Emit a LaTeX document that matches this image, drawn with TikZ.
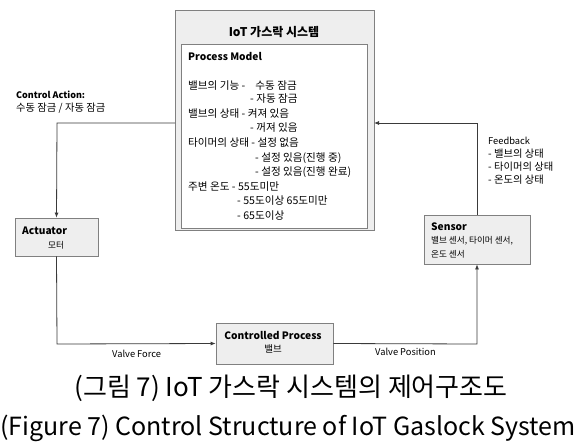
\documentclass[tikz,border=0pt]{standalone}
\usepackage{fontspec}
\setmainfont{Noto Sans CJK KR}
\usetikzlibrary{arrows.meta}
\definecolor{boxgray}{HTML}{EEEEEE}
\definecolor{edgegray}{HTML}{808080}
\definecolor{linegray}{HTML}{3A3A3A}
\tikzset{
  blk/.style={draw=edgegray, line width=0.8pt, fill=boxgray, inner sep=0pt},
  wht/.style={draw=edgegray, line width=0.8pt, fill=white, inner sep=0pt},
  txt/.style={anchor=west, inner sep=0pt, font=\fontsize{10.6}{12}\selectfont, text=black},
  btxt/.style={anchor=west, inner sep=0pt, font=\fontsize{10.2}{12}\selectfont\bfseries, text=black},
  stxt/.style={anchor=west, inner sep=0pt, font=\fontsize{8.6}{10}\selectfont, text=black},
  ltxt/.style={anchor=west, inner sep=0pt, font=\fontsize{10.3}{12}\selectfont, text=black},
  etxt/.style={anchor=west, inner sep=0pt, font=\fontsize{9.3}{11}\selectfont, text=black},
  conn/.style={draw=linegray, line width=0.8pt},
  arr/.style={conn, -{Latex[length=5pt,width=4pt]}},
  captxt/.style={inner sep=0pt, font=\fontsize{25}{28}\selectfont, text=black}
}
\begin{document}
\begin{tikzpicture}[x=1pt,y=-1pt]
\useasboundingbox (0,0) rectangle (583,444);
% outer system box
\node[blk, minimum width=199pt, minimum height=220pt] (sys) at (274.5,120) {};
\node[inner sep=0pt, font=\fontsize{12}{14}\selectfont\bfseries] (title) at (274,32) {IoT 가스락 시스템};
\node[wht, minimum width=186pt, minimum height=184pt] (pm) at (274,136) {};
\node[btxt] (pmh) at (188,56) {Process Model};
\node[txt] (l1) at (188,86) {밸브의 기능 -\hspace{10pt}수동 잠금};
\node[txt] (l2) at (250,99) {- 자동 잠금};
\node[txt] (l3) at (188,114) {밸브의 상태 - 켜져 있음};
\node[txt] (l4) at (250,128) {- 꺼져 있음};
\node[txt] (l5) at (188,143) {타이머의 상태 - 설정 없음};
\node[txt] (l6) at (255,158) {- 설정 있음(진행 중)};
\node[txt] (l7) at (255,172) {- 설정 있음(진행 완료)};
\node[txt] (l8) at (188,187) {주변 온도 - 55도미만};
\node[txt] (l9) at (237,201) {- 55도이상 65도미만};
\node[txt] (l10) at (237,216) {- 65도이상};
% control action label
\node[btxt, font=\fontsize{9}{11}\selectfont\bfseries] (ca1) at (16,95) {Control Action:};
\node[ltxt] (ca2) at (16,108) {수동 잠금 / 자동 잠금};
% actuator
\node[blk, minimum width=83pt, minimum height=38pt] (act) at (56.5,237) {};
\node[btxt] (acth) at (22,231) {Actuator};
\node[stxt, anchor=center] (actt) at (56,245) {모터};
% controlled process
\node[blk, minimum width=117pt, minimum height=41pt] (cp) at (274.5,343.5) {};
\node[btxt, anchor=center] (cph) at (273,335) {Controlled Process};
\node[stxt, anchor=center, font=\fontsize{9.5}{11}\selectfont] (cpt) at (273,349) {밸브};
% sensor
\node[blk, minimum width=106pt, minimum height=49pt] (sen) at (477,239.5) {};
\node[btxt] (senh) at (431,227) {Sensor};
\node[stxt] (sen1) at (431,241) {밸브 센서, 타이머 센서,};
\node[stxt] (sen2) at (431,254) {온도 센서};
% feedback label
\node[etxt] (fb0) at (488,141) {Feedback};
\node[ltxt] (fb1) at (488,154) {- 밸브의 상태};
\node[ltxt] (fb2) at (488,167) {- 타이머의 상태};
\node[ltxt] (fb3) at (488,180) {- 온도의 상태};
% connectors
\coordinate (caL) at (57,123);
\coordinate (caR) at (175,123);
\draw[arr] (caR) -- (caL) -- (act.north);
\coordinate (vfC) at (57,344);
\draw[arr] (act.south) -- (vfC) -- (cp.west);
\node[etxt] (vf) at (112,354) {Valve Force};
\coordinate (vpC) at (477,344);
\draw[arr] (cp.east) -- (vpC) -- (sen.south);
\node[etxt] (vp) at (375,352) {Valve Position};
\coordinate (fbT) at (477,123);
\coordinate (fbL) at (374,123);
\draw[arr] (sen.north) -- (fbT) -- (fbL);
% caption
\node[captxt, font=\fontsize{26}{29}\selectfont] (cap1) at (291,388) {(그림 7) IoT 가스락 시스템의 제어구조도};
\node[captxt] (cap2) at (288,428) {(Figure 7) Control Structure of IoT Gaslock System};
\end{tikzpicture}
\end{document}
